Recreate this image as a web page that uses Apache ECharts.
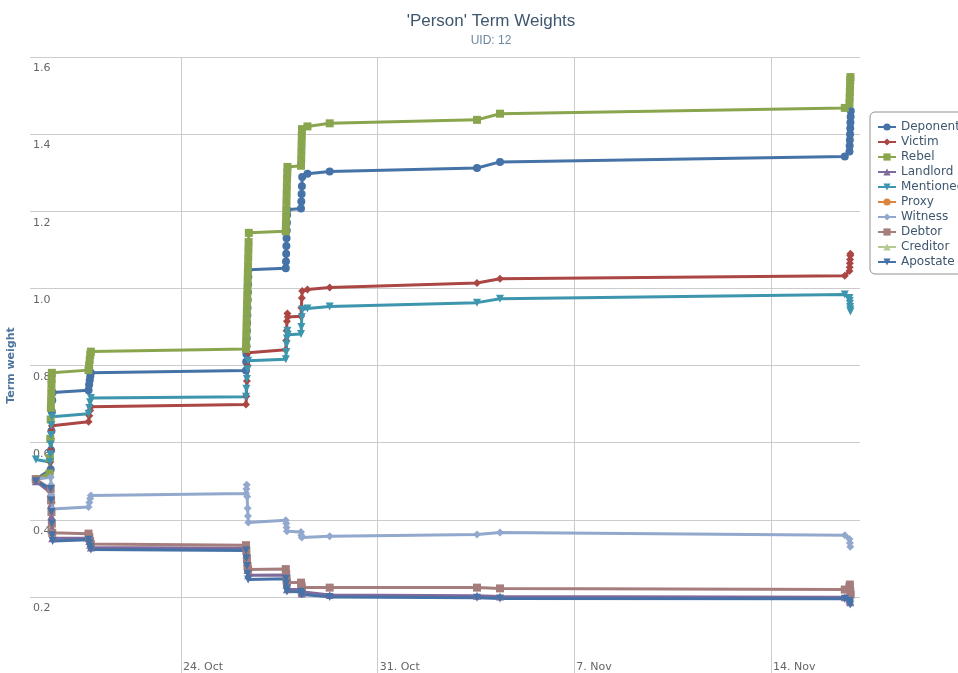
<!DOCTYPE html>
<html>
<head>
<meta charset="utf-8">
<script src="https://cdn.jsdelivr.net/npm/echarts@6/dist/echarts.min.js"></script>
<style>html,body{margin:0;padding:0;background:#fff}#c{width:958px;height:673px}</style>
</head>
<body>
<div id="c"></div>
<script>
const YEAR = '2012-';
const seriesNames = ['Deponent','Victim','Rebel','Landlord','Mentioned','Proxy','Witness','Debtor','Creditor','Apostate'];
const xTicks = ['10-24 00:00','10-31 00:00','11-07 00:00','11-14 00:00'];
const yTicks = [0, 0.2, 0.4, 0.6, 0.8, 1.0, 1.2, 1.4, 1.6];

const deponent = [
 ['10-18 20:00',0.505],
 ['10-19 08:40',0.53],['10-19 09:00',0.58],['10-19 09:20',0.63],['10-19 09:40',0.68],['10-19 10:00',0.71],['10-19 10:20',0.73],
 ['10-20 17:00',0.736],
 ['10-20 17:30',0.75],['10-20 18:00',0.762],['10-20 18:30',0.772],['10-20 19:00',0.781],
 ['10-26 07:30',0.787],
 ['10-26 07:40',0.81],['10-26 07:50',0.83],['10-26 08:00',0.85],['10-26 08:10',0.87],['10-26 08:20',0.89],['10-26 08:30',0.91],
 ['10-26 08:40',0.93],['10-26 08:50',0.95],['10-26 09:00',0.97],['10-26 09:10',0.99],['10-26 09:20',1.01],['10-26 09:30',1.03],['10-26 09:40',1.048],
 ['10-27 17:30',1.052],
 ['10-27 17:40',1.07],['10-27 17:50',1.09],['10-27 18:00',1.11],['10-27 18:10',1.13],['10-27 18:20',1.15],['10-27 18:30',1.17],['10-27 18:40',1.19],['10-27 18:50',1.204],
 ['10-28 06:30',1.207],
 ['10-28 06:45',1.225],['10-28 07:00',1.245],['10-28 07:15',1.265],['10-28 07:30',1.289],
 ['10-28 12:00',1.297],['10-29 07:00',1.303],
 ['11-03 12:50',1.312],['11-04 08:30',1.328],
 ['11-16 15:00',1.342],
 ['11-16 19:00',1.355],['11-16 19:10',1.37],['11-16 19:20',1.385],['11-16 19:30',1.40],['11-16 19:40',1.415],['11-16 19:50',1.43],['11-16 20:00',1.445],['11-16 20:10',1.46]
];
const victim = [
 ['10-18 20:00',0.505],
 ['10-19 08:00',0.52],['10-19 08:20',0.55],['10-19 08:40',0.58],['10-19 09:00',0.61],['10-19 09:20',0.63],['10-19 09:40',0.644],
 ['10-20 17:00',0.654],
 ['10-20 17:40',0.67],['10-20 18:20',0.683],['10-20 19:00',0.693],
 ['10-26 07:30',0.699],
 ['10-26 07:50',0.72],['10-26 08:20',0.76],['10-26 08:50',0.80],['10-26 09:20',0.833],
 ['10-27 17:30',0.841],
 ['10-27 17:50',0.865],['10-27 18:10',0.89],['10-27 18:30',0.915],['10-27 18:50',0.935],['10-27 19:10',0.926],
 ['10-28 06:30',0.928],
 ['10-28 06:50',0.95],['10-28 07:10',0.975],['10-28 07:30',0.993],
 ['10-28 12:00',0.997],['10-29 07:00',1.002],
 ['11-03 12:50',1.014],['11-04 08:30',1.025],
 ['11-16 15:00',1.033],
 ['11-16 19:00',1.045],['11-16 19:10',1.055],['11-16 19:20',1.065],['11-16 19:30',1.075],['11-16 19:40',1.085],['11-16 19:50',1.09]
];
const rebel = [
 ['10-18 20:00',0.505],
 ['10-19 07:40',0.52],['10-19 08:00',0.56],['10-19 08:20',0.61],['10-19 08:40',0.66],['10-19 08:50',0.69],['10-19 09:00',0.71],
 ['10-19 09:10',0.73],['10-19 09:20',0.75],['10-19 09:30',0.765],['10-19 09:40',0.781],
 ['10-20 17:00',0.788],
 ['10-20 17:30',0.80],['10-20 18:00',0.815],['10-20 18:30',0.828],['10-20 19:00',0.836],
 ['10-26 07:30',0.843],
 ['10-26 07:35',0.86],['10-26 07:45',0.88],['10-26 07:55',0.90],['10-26 08:05',0.92],['10-26 08:15',0.94],['10-26 08:25',0.96],
 ['10-26 08:35',0.98],['10-26 08:45',1.00],['10-26 08:55',1.02],['10-26 09:05',1.04],['10-26 09:15',1.06],['10-26 09:25',1.08],
 ['10-26 09:35',1.10],['10-26 09:45',1.12],['10-26 09:55',1.144],
 ['10-27 17:30',1.148],
 ['10-27 17:35',1.165],['10-27 17:45',1.185],['10-27 17:55',1.205],['10-27 18:05',1.225],['10-27 18:15',1.245],['10-27 18:25',1.265],
 ['10-27 18:35',1.285],['10-27 18:45',1.30],['10-27 18:55',1.315],
 ['10-28 06:30',1.318],
 ['10-28 06:40',1.335],['10-28 06:50',1.355],['10-28 07:00',1.375],['10-28 07:10',1.395],['10-28 07:20',1.413],
 ['10-28 12:00',1.42],['10-29 07:00',1.428],
 ['11-03 12:50',1.437],['11-04 08:30',1.453],
 ['11-16 15:00',1.468],
 ['11-16 19:00',1.48],['11-16 19:10',1.495],['11-16 19:20',1.51],['11-16 19:30',1.525],['11-16 19:40',1.54],['11-16 19:50',1.548]
];
const landlord = [
 ['10-18 20:00',0.50],
 ['10-19 08:40',0.47],['10-19 09:00',0.44],['10-19 09:20',0.41],['10-19 09:40',0.38],['10-19 10:00',0.352],
 ['10-20 17:00',0.352],
 ['10-20 17:40',0.345],['10-20 18:20',0.335],['10-20 19:00',0.328],
 ['10-26 07:30',0.326],
 ['10-26 07:50',0.31],['10-26 08:20',0.29],['10-26 08:50',0.27],['10-26 09:20',0.256],
 ['10-27 17:30',0.257],
 ['10-27 17:50',0.245],['10-27 18:10',0.232],['10-27 18:30',0.22],
 ['10-28 06:30',0.219],
 ['10-28 06:50',0.213],['10-28 07:10',0.209],
 ['10-29 07:00',0.205],
 ['11-03 12:50',0.203],['11-04 08:30',0.201],
 ['11-16 15:00',0.199],
 ['11-16 19:00',0.194],['11-16 19:20',0.19],['11-16 19:40',0.186]
];
const mentioned = [
 ['10-18 20:00',0.556],
 ['10-19 08:00',0.55],['10-19 08:20',0.57],['10-19 08:40',0.595],['10-19 09:00',0.62],['10-19 09:20',0.645],['10-19 09:40',0.667],
 ['10-20 17:00',0.675],
 ['10-20 17:40',0.69],['10-20 18:20',0.705],['10-20 19:00',0.716],
 ['10-26 07:30',0.719],
 ['10-26 07:50',0.74],['10-26 08:20',0.765],['10-26 08:50',0.79],['10-26 09:20',0.812],
 ['10-27 17:30',0.816],
 ['10-27 17:50',0.835],['10-27 18:10',0.855],['10-27 18:30',0.87],['10-27 18:50',0.89],['10-27 19:10',0.88],
 ['10-28 06:30',0.882],
 ['10-28 06:50',0.90],['10-28 07:10',0.925],['10-28 07:30',0.945],
 ['10-28 12:00',0.948],['10-29 07:00',0.953],
 ['11-03 12:50',0.963],['11-04 08:30',0.973],
 ['11-16 15:00',0.984],
 ['11-16 19:00',0.975],['11-16 19:10',0.967],['11-16 19:20',0.96],['11-16 19:30',0.952],['11-16 19:40',0.945],['11-16 19:50',0.94]
];
const proxy = [];
const witness = [
 ['10-18 20:00',0.505],
 ['10-19 08:40',0.51],['10-19 09:00',0.49],['10-19 09:20',0.465],['10-19 09:40',0.445],['10-19 10:00',0.428],
 ['10-20 17:00',0.433],
 ['10-20 17:40',0.445],['10-20 18:20',0.455],['10-20 19:00',0.463],
 ['10-26 07:30',0.468],
 ['10-26 07:50',0.48],['10-26 08:10',0.491],['10-26 08:30',0.46],['10-26 08:50',0.43],['10-26 09:10',0.41],['10-26 09:30',0.393],
 ['10-27 17:30',0.399],
 ['10-27 17:50',0.39],['10-27 18:10',0.38],['10-27 18:30',0.37],
 ['10-28 06:30',0.368],
 ['10-28 06:50',0.36],['10-28 07:10',0.354],
 ['10-29 07:00',0.357],
 ['11-03 12:50',0.362],['11-04 08:30',0.367],
 ['11-16 15:00',0.36],
 ['11-16 19:00',0.35],['11-16 19:20',0.34],['11-16 19:40',0.33]
];
const debtor = [
 ['10-18 20:00',0.505],
 ['10-19 08:40',0.48],['10-19 09:00',0.45],['10-19 09:20',0.42],['10-19 09:40',0.39],['10-19 10:00',0.366],
 ['10-20 17:00',0.364],
 ['10-20 17:40',0.355],['10-20 18:20',0.345],['10-20 19:00',0.337],
 ['10-26 07:30',0.334],
 ['10-26 07:50',0.32],['10-26 08:20',0.30],['10-26 08:50',0.28],['10-26 09:20',0.271],
 ['10-27 17:30',0.272],
 ['10-27 17:50',0.26],['10-27 18:10',0.247],['10-27 18:30',0.237],
 ['10-28 06:30',0.237],
 ['10-28 06:50',0.23],['10-28 07:10',0.224],
 ['10-29 07:00',0.224],
 ['11-03 12:50',0.224],['11-04 08:30',0.222],
 ['11-16 15:00',0.219],
 ['11-16 19:00',0.226],['11-16 19:20',0.232],['11-16 19:40',0.214],['11-16 20:00',0.206]
];
const creditor = [];
const apostate = [
 ['10-18 20:00',0.50],
 ['10-19 08:40',0.48],['10-19 09:00',0.45],['10-19 09:20',0.42],['10-19 09:40',0.39],['10-19 10:00',0.36],['10-19 10:20',0.345],
 ['10-20 17:00',0.348],
 ['10-20 17:40',0.34],['10-20 18:20',0.33],['10-20 19:00',0.323],
 ['10-26 07:30',0.32],
 ['10-26 07:50',0.30],['10-26 08:20',0.28],['10-26 08:50',0.26],['10-26 09:20',0.245],
 ['10-27 17:30',0.247],
 ['10-27 17:50',0.235],['10-27 18:10',0.222],['10-27 18:30',0.214],
 ['10-28 06:30',0.213],
 ['10-28 06:50',0.209],['10-28 07:10',0.206],
 ['10-29 07:00',0.2],
 ['11-03 12:50',0.198],['11-04 08:30',0.196],
 ['11-16 15:00',0.195],
 ['11-16 19:00',0.19],['11-16 19:20',0.185],['11-16 19:40',0.18]
];

const seriesData = [deponent, victim, rebel, landlord, mentioned, proxy, witness, debtor, creditor, apostate];
const colors = ['#4572A7','#AA4643','#89A54E','#80699B','#3D96AE','#DB843D','#92A8CD','#A47D7C','#B5CA92','#4572A7'];
const triDown = 'path://M0,0 L10,0 L5,10 Z';
const symbols = ['circle','diamond','rect','triangle',triDown,'circle','diamond','rect','triangle',triDown];

function T(s) {
  const [d, hm] = s.split(' ');
  const [mo, da] = d.split('-').map(Number);
  const [h, mi] = hm.split(':').map(Number);
  return new Date(Number(YEAR.slice(0,4)), mo - 1, da, h, mi).getTime();
}
const MON = ['Jan','Feb','Mar','Apr','May','Jun','Jul','Aug','Sep','Oct','Nov','Dec'];

const chart = echarts.init(document.getElementById('c'), null, {renderer: 'canvas'});
const series = seriesNames.map((name, i) => ({
  name: name,
  type: 'line',
  data: seriesData[i].map(p => [T(p[0]), p[1]]),
  color: colors[i],
  symbol: symbols[i],
  symbolSize: 8,
  showAllSymbol: true,
  lineStyle: {width: 3, color: colors[i]},
  itemStyle: {color: colors[i]},
  emphasis: {disabled: true},
  animation: false
}));

chart.setOption({
  animation: false,
  backgroundColor: '#ffffff',
  title: {
    text: "'Person' Term Weights",
    subtext: 'UID: 12',
    left: 486,
    top: 8,
    textAlign: 'center',
    itemGap: 5,
    textStyle: {fontFamily: 'Liberation Sans', fontSize: 17, fontWeight: 'normal', color: '#3E576F'},
    subtextStyle: {fontFamily: 'Liberation Sans', fontSize: 12, color: '#6D869F'}
  },
  legend: {
    orient: 'vertical',
    left: 870,
    top: 112,
    padding: [9, 30, 6, 7],
    itemWidth: 18,
    itemHeight: 9,
    itemGap: 3,
    backgroundColor: '#ffffff',
    borderColor: '#909090',
    borderWidth: 1,
    borderRadius: 5,
    textStyle: {fontFamily: 'DejaVu Sans', fontSize: 12, lineHeight: 12, color: '#3E576F'},
    data: seriesNames
  },
  grid: {left: 30, right: 98, top: 57, height: 617, containLabel: false, outerBoundsMode: 'none'},
  xAxis: {
    type: 'value',
    min: T('10-18 15:00'),
    max: T('11-17 04:00'),
    axisLine: {show: false},
    axisTick: {show: false, customValues: xTicks.map(T)},
    axisLabel: {
      inside: true,
      margin: 1,
      align: 'left',
      padding: [0, 0, 0, 2],
      customValues: xTicks.map(T),
      fontFamily: 'DejaVu Sans',
      fontSize: 11,
      color: '#666666',
      formatter: v => { const d = new Date(v); return d.getDate() + '. ' + MON[d.getMonth()]; }
    },
    splitLine: {show: true, lineStyle: {color: '#cccccc', width: 1}}
  },
  yAxis: {
    type: 'value',
    min: yTicks[0],
    max: yTicks[yTicks.length - 1],
    interval: 0.2,
    name: 'Term weight',
    nameLocation: 'middle',
    nameGap: 13,
    nameTextStyle: {fontFamily: 'DejaVu Sans', fontSize: 11, fontWeight: 'bold', color: '#4d759e'},
    axisLine: {show: false},
    axisTick: {show: false},
    axisLabel: {
      inside: true,
      margin: 3,
      verticalAlign: 'top',
      padding: [6, 0, 0, 0],
      fontFamily: 'DejaVu Sans',
      fontSize: 11,
      color: '#666666',
      formatter: v => v.toFixed(1)
    },
    splitLine: {show: true, lineStyle: {color: '#cccccc', width: 1}}
  },
  series: series
});
</script>
</body>
</html>
